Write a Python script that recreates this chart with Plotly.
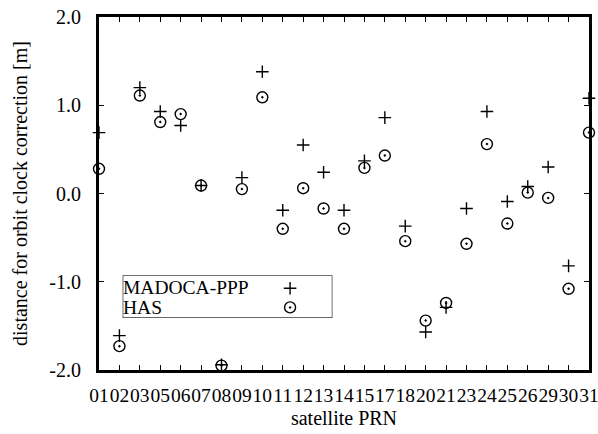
import plotly.graph_objects as go

prn_labels = ["01", "02", "03", "05", "06", "07", "08", "09", "10", "11", "12", "13",
              "14", "15", "17", "18", "20", "21", "23", "24", "25", "26", "29", "30", "31"]
madoca_ppp = [0.69, -1.61, 1.20, 0.93, 0.77, 0.09, -1.94, 0.18, 1.38, -0.19, 0.55, 0.24,
              -0.19, 0.37, 0.86, -0.37, -1.57, -1.29, -0.17, 0.93, -0.09, 0.08, 0.30, -0.82, 1.08]
has = [0.28, -1.73, 1.11, 0.81, 0.90, 0.09, -1.95, 0.05, 1.09, -0.40, 0.06, -0.17,
       -0.40, 0.29, 0.43, -0.54, -1.44, -1.24, -0.57, 0.56, -0.34, 0.01, -0.05, -1.08, 0.69]
y_tick_vals = [-2, -1, 0, 1, 2]
y_tick_text = ["-2.0", "-1.0", "0.0", "1.0", "2.0"]
series_names = ["MADOCA-PPP", "HAS"]

idx = list(range(len(prn_labels)))
FONT = "Liberation Serif"

plus_marker = dict(symbol="cross-thin-open", size=9, color="black", line=dict(color="black", width=1.4))
circ_marker = dict(symbol="circle-open-dot", size=11, color="black", line=dict(color="black", width=1.4))

fig = go.Figure()
fig.add_trace(go.Scatter(x=idx, y=madoca_ppp, mode="markers", name=series_names[0],
                         marker=plus_marker, cliponaxis=False, showlegend=False))
fig.add_trace(go.Scatter(x=idx, y=has, mode="markers", name=series_names[1],
                         marker=circ_marker, cliponaxis=False, showlegend=False))

# manual legend (text left, symbol right) on hidden axes
lx0, lx1, ly0, ly1 = 0.0496, 0.475, 0.149, 0.267
fig.add_trace(go.Scatter(x=[0.80], y=[0.70], mode="markers", marker=plus_marker,
                         xaxis="x2", yaxis="y2", showlegend=False, hoverinfo="skip", cliponaxis=False))
fig.add_trace(go.Scatter(x=[0.80], y=[0.24], mode="markers", marker=circ_marker,
                         xaxis="x2", yaxis="y2", showlegend=False, hoverinfo="skip", cliponaxis=False))

fig.add_shape(type="rect", xref="paper", yref="paper", x0=lx0, x1=lx1, y0=ly0, y1=ly1,
              line=dict(color="black", width=1.2), fillcolor="rgba(0,0,0,0)", layer="below")
fig.add_annotation(xref="paper", yref="paper", x=lx0 - 0.002, y=ly0 + (ly1 - ly0) * 0.72,
                   text=series_names[0], showarrow=False, xanchor="left", yanchor="middle",
                   font=dict(family=FONT, size=19.5, color="black"), borderpad=0)
fig.add_annotation(xref="paper", yref="paper", x=lx0 - 0.002, y=ly0 + (ly1 - ly0) * 0.24,
                   text=series_names[1], showarrow=False, xanchor="left", yanchor="middle",
                   font=dict(family=FONT, size=19.5, color="black"), borderpad=0)

fig.update_layout(
    width=598, height=434,
    margin=dict(l=99, r=9, t=17, b=64),
    paper_bgcolor="white", plot_bgcolor="white",
    font=dict(family=FONT, size=20, color="black"),
    xaxis=dict(
        range=[0, len(prn_labels) - 1], tickmode="array", tickvals=idx, ticktext=prn_labels,
        showgrid=False, zeroline=False, showline=True, linecolor="black", linewidth=3,
        mirror="ticks", ticks="inside", ticklen=5, tickwidth=1, tickcolor="black",
        tickangle=0, ticklabelstandoff=6, automargin=False, ticklabeloverflow="allow",
        title=dict(text="satellite PRN", standoff=6, font=dict(family=FONT, size=20)),
        tickfont=dict(family=FONT, size=19.5),
    ),
    yaxis=dict(
        range=[-2, 2], tickmode="array", tickvals=y_tick_vals, ticktext=y_tick_text,
        showgrid=False, zeroline=False, showline=True, linecolor="black", linewidth=3,
        mirror="ticks", ticks="inside", ticklen=5, tickwidth=1, tickcolor="black",
        ticklabelstandoff=11, automargin=False,
        title=dict(text="distance for orbit clock correction [m]", standoff=17,
                   font=dict(family=FONT, size=20)),
        tickfont=dict(family=FONT, size=20),
    ),
    xaxis2=dict(domain=[lx0, lx1], range=[0, 1], visible=False, anchor="y2", fixedrange=True),
    yaxis2=dict(domain=[ly0, ly1], range=[0, 1], visible=False, anchor="x2", fixedrange=True),
)

fig.write_html("out.html", config={"displayModeBar": False},
               post_script="document.body.style.margin='0';document.body.style.overflow='hidden';")
